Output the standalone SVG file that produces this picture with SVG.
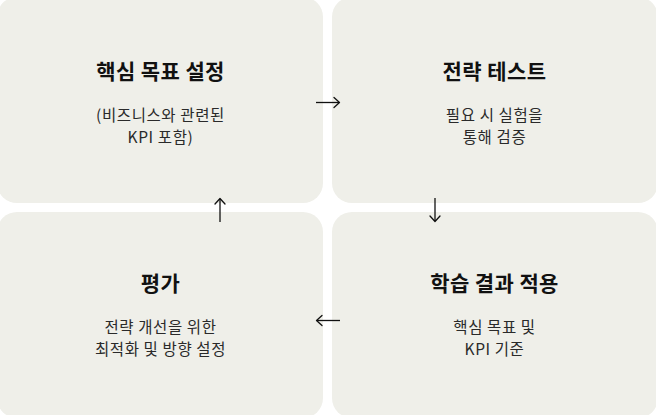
<svg xmlns="http://www.w3.org/2000/svg" width="656" height="415" viewBox="0 0 656 415">
<style>
.box{fill:#efefe9}
.title{font-family:"Noto Sans CJK KR","Noto Sans",sans-serif;font-size:21px;font-weight:700;fill:#111;text-anchor:middle;letter-spacing:0.4px}
.sub{font-family:"Noto Sans CJK KR","Noto Sans",sans-serif;font-size:15.5px;font-weight:400;fill:#2a2a2a;text-anchor:middle;letter-spacing:0.6px}
.conn{stroke:#111;stroke-width:1.3;fill:none}
.head{stroke:#111;stroke-width:1.3;fill:none;stroke-linecap:round;stroke-linejoin:round}
</style>
<rect width="656" height="415" fill="#ffffff"/>
<g id="node-goal">
<rect class="box" x="-3" y="-3" width="326" height="206" rx="20"/>
<text class="title" x="160.5" y="78.5">핵심 목표 설정</text>
<text class="sub" x="160.5" y="121">(비즈니스와 관련된</text>
<text class="sub" x="160.5" y="143">KPI 포함)</text>
</g>
<g id="node-test">
<rect class="box" x="332" y="-3" width="326" height="206" rx="20"/>
<text class="title" x="494.5" y="78.5">전략 테스트</text>
<text class="sub" x="494.5" y="121">필요 시 실험을</text>
<text class="sub" x="494.5" y="143">통해 검증</text>
</g>
<g id="node-apply">
<rect class="box" x="332" y="212" width="326" height="206" rx="20"/>
<text class="title" x="494.5" y="290.5">학습 결과 적용</text>
<text class="sub" x="494.5" y="333">핵심 목표 및</text>
<text class="sub" x="494.5" y="355">KPI 기준</text>
</g>
<g id="node-eval">
<rect class="box" x="-3" y="212" width="326" height="206" rx="20"/>
<text class="title" x="160.5" y="290.5">평가</text>
<text class="sub" x="160.5" y="333">전략 개선을 위한</text>
<text class="sub" x="160.5" y="355">최적화 및 방향 설정</text>
</g>
<g id="connectors">
<path class="conn" d="M316 102.5H339"/>
<path class="head" d="M334 97.5L339.5 102.5L334 107.5"/>
<path class="conn" d="M435 198V221"/>
<path class="head" d="M430 216L435 221.5L440 216"/>
<path class="conn" d="M340 320.5H317"/>
<path class="head" d="M322 315.5L316.5 320.5L322 325.5"/>
<path class="conn" d="M220 222V199"/>
<path class="head" d="M215 204L220 198.5L225 204"/>
</g>
</svg>
